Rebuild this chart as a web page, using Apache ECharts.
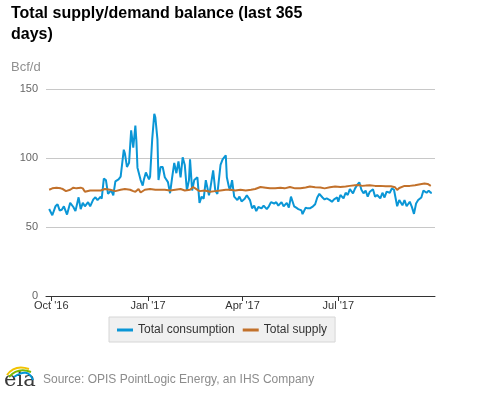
<!DOCTYPE html>
<html><head><meta charset="utf-8">
<script src="https://cdn.jsdelivr.net/npm/echarts@6/dist/echarts.min.js"></script>
<style>html,body{margin:0;padding:0;background:#fff}#chart{width:477px;height:393px}</style>
</head><body><div id="chart"></div>
<script>
const titleText = "Total supply/demand balance (last 365\ndays)";
const unitLabel = "Bcf/d";
const sourceText = "Source: OPIS PointLogic Energy, an IHS Company";
const seriesNames = ["Total consumption", "Total supply"];
const tickDates = ["2016-10-01", "2017-01-01", "2017-04-01", "2017-07-01"];
const tickLabels = ["Oct '16", "Jan '17", "Apr '17", "Jul '17"];
const xRange = ["2016-09-26", "2017-10-01"];
const yRange = [0, 150, 50];

const consumption = [
['2016-09-29',63],['2016-10-02',58.5],['2016-10-05',65],['2016-10-07',66.5],['2016-10-09',62],['2016-10-11',62.5],['2016-10-13',65],['2016-10-16',59],['2016-10-19',67.5],['2016-10-22',64.5],['2016-10-24',61.5],['2016-10-27',71.5],['2016-10-29',63],['2016-10-31',67.5],['2016-11-02',65],['2016-11-05',68],['2016-11-07',65],['2016-11-10',70],['2016-11-12',71.5],['2016-11-14',69.5],['2016-11-17',72],['2016-11-18',70.5],['2016-11-20',85],['2016-11-22',84],['2016-11-24',74],['2016-11-27',76.5],['2016-11-29',73],['2016-12-01',83],['2016-12-04',84.5],['2016-12-06',86.5],['2016-12-09',106],['2016-12-10',103.5],['2016-12-12',93.5],['2016-12-14',96.5],['2016-12-16',120],['2016-12-18',107.5],['2016-12-20',123.5],['2016-12-21',112],['2016-12-22',93],['2016-12-25',84],['2016-12-27',80],['2016-12-28',84],['2016-12-30',89.5],['2017-01-02',84.5],['2017-01-03',86.5],['2017-01-05',113.5],['2017-01-07',132],['2017-01-08',129.5],['2017-01-10',113.5],['2017-01-11',84],['2017-01-13',93.5],['2017-01-15',93.5],['2017-01-17',86],['2017-01-20',82.5],['2017-01-22',74.5],['2017-01-24',86],['2017-01-26',96.5],['2017-01-28',89],['2017-01-30',97.5],['2017-02-01',86],['2017-02-03',100.5],['2017-02-05',95],['2017-02-07',76.5],['2017-02-09',84],['2017-02-10',99],['2017-02-12',76.5],['2017-02-14',84],['2017-02-17',86],['2017-02-19',67.5],['2017-02-21',72],['2017-02-23',70.5],['2017-02-25',84],['2017-02-28',73],['2017-03-01',76.5],['2017-03-04',91],['2017-03-06',76.5],['2017-03-08',74],['2017-03-11',95],['2017-03-13',99],['2017-03-16',102],['2017-03-17',86],['2017-03-19',79],['2017-03-20',76.5],['2017-03-22',84],['2017-03-24',72],['2017-03-27',69.5],['2017-03-29',72],['2017-03-31',68.5],['2017-04-03',70.5],['2017-04-05',73],['2017-04-08',69.5],['2017-04-10',63.5],['2017-04-12',65.5],['2017-04-14',61.5],['2017-04-16',64.5],['2017-04-19',63.5],['2017-04-21',65.5],['2017-04-24',63],['2017-04-26',65],['2017-04-28',68],['2017-05-01',67],['2017-05-03',68],['2017-05-05',65.5],['2017-05-08',68],['2017-05-10',65],['2017-05-13',67.5],['2017-05-15',64],['2017-05-17',72],['2017-05-20',65],['2017-05-22',64],['2017-05-24',63],['2017-05-27',62],['2017-05-28',59.3],['2017-05-31',64],['2017-06-02',63.5],['2017-06-04',63.5],['2017-06-07',65],['2017-06-09',66.5],['2017-06-11',71.4],['2017-06-13',74],['2017-06-16',71.4],['2017-06-18',70],['2017-06-20',70.7],['2017-06-23',69.5],['2017-06-25',68.3],['2017-06-27',70],['2017-06-30',71.4],['2017-07-01',68.3],['2017-07-03',73.2],['2017-07-06',70.7],['2017-07-08',74.8],['2017-07-10',73.2],['2017-07-12',77.4],['2017-07-15',74.4],['2017-07-17',78],['2017-07-19',80.5],['2017-07-21',82.4],['2017-07-23',77],['2017-07-25',74.4],['2017-07-27',76.4],['2017-07-29',72],['2017-07-31',75.6],['2017-08-03',77.4],['2017-08-05',72],['2017-08-07',73.2],['2017-08-10',70.7],['2017-08-12',74.8],['2017-08-14',71.4],['2017-08-16',75.6],['2017-08-19',74.8],['2017-08-21',78],['2017-08-23',77],['2017-08-26',65],['2017-08-28',69.5],['2017-08-31',65.7],['2017-09-02',69.5],['2017-09-04',65],['2017-09-07',68.3],['2017-09-09',64.6],['2017-09-11',59.5],['2017-09-13',67],['2017-09-15',69.5],['2017-09-18',71.4],['2017-09-20',76.4],['2017-09-23',74.8],['2017-09-25',76.4],['2017-09-27',74.8],['2017-09-28',74.8]
];

const supply = [
['2016-09-29',77],['2016-10-02',78],['2016-10-06',78.5],['2016-10-10',78],['2016-10-12',77.5],['2016-10-15',76],['2016-10-19',77],['2016-10-22',78.5],['2016-10-25',78],['2016-10-29',78.5],['2016-10-31',78],['2016-11-02',75.5],['2016-11-07',76.5],['2016-11-12',76.5],['2016-11-17',76.5],['2016-11-21',77.5],['2016-11-26',77],['2016-12-01',76],['2016-12-06',77],['2016-12-10',77.5],['2016-12-15',77],['2016-12-18',76],['2016-12-20',75.5],['2016-12-23',77.5],['2016-12-25',75],['2016-12-29',77],['2017-01-03',77.5],['2017-01-08',77],['2017-01-12',77],['2017-01-17',77],['2017-01-22',76.5],['2017-01-27',77],['2017-02-01',77.5],['2017-02-05',76.5],['2017-02-10',77],['2017-02-13',79],['2017-02-16',77.5],['2017-02-19',76],['2017-02-24',76.5],['2017-03-01',75.5],['2017-03-06',76],['2017-03-11',76.5],['2017-03-16',77],['2017-03-20',77],['2017-03-25',76.5],['2017-03-30',77],['2017-04-04',76.5],['2017-04-09',77],['2017-04-13',77.5],['2017-04-18',79],['2017-04-23',78.5],['2017-04-27',78],['2017-05-02',78],['2017-05-07',78.5],['2017-05-11',78],['2017-05-16',79],['2017-05-21',78],['2017-05-26',78],['2017-05-31',78.6],['2017-06-04',79.3],['2017-06-09',78.8],['2017-06-14',78.6],['2017-06-18',78],['2017-06-23',78.8],['2017-06-28',79.3],['2017-07-03',79],['2017-07-08',79.3],['2017-07-12',79.8],['2017-07-17',80.3],['2017-07-20',80.5],['2017-07-24',79.8],['2017-07-27',80],['2017-07-31',80.3],['2017-08-05',79.8],['2017-08-10',79.8],['2017-08-15',79.5],['2017-08-20',79.5],['2017-08-24',78.8],['2017-08-26',76.8],['2017-08-28',78.3],['2017-09-02',79.8],['2017-09-07',79.8],['2017-09-12',80.3],['2017-09-17',81],['2017-09-21',81.5],['2017-09-24',81.2],['2017-09-27',79.8]
];

const seriesColors = ["#0a96d6", "#c2712b"];

const toTime = d => Date.UTC(+d.slice(0, 4), +d.slice(5, 7) - 1, +d.slice(8, 10));
const chart = echarts.init(document.getElementById('chart'), null, { renderer: 'canvas' });
const tickTimes = tickDates.map(toTime);
function tickLabelFor(v) {
  const i = tickTimes.findIndex(t => Math.abs(t - v) < 43200000);
  return i >= 0 ? tickLabels[i] : '';
}
const font = 'Liberation Sans, Arial, sans-serif';
const option = {
  animation: false,
  textStyle: { fontFamily: font },
  title: [
    { text: titleText, left: 11, top: 3, padding: 0,
      textStyle: { fontSize: 16, fontWeight: 'bold', color: '#000', lineHeight: 21, fontFamily: font } },
    { text: unitLabel, left: 11, top: 61, padding: 0,
      textStyle: { fontSize: 13, fontWeight: 'normal', color: '#909090', fontFamily: font } }
  ],
  legend: {
    data: seriesNames, left: 109, top: 317,
    backgroundColor: '#f0f0f0', borderColor: '#d6d6d6', borderWidth: 1,
    padding: [7, 8, 6, 8], itemGap: 8, itemWidth: 16, itemHeight: 3, icon: 'rect',
    textStyle: { fontSize: 12, color: '#333', fontFamily: font }
  },
  grid: { left: 46, right: 42, top: 89, bottom: 97 },
  xAxis: {
    type: 'value', min: toTime(xRange[0]), max: toTime(xRange[1]),
    axisLine: { show: true, lineStyle: { color: '#333', width: 1 } },
    axisTick: { show: true, customValues: tickTimes, length: 5, lineStyle: { color: '#333' } },
    axisLabel: { customValues: tickTimes, formatter: tickLabelFor, fontSize: 11, color: '#333', margin: 4, hideOverlap: false, showMinLabel: true, showMaxLabel: true },
    splitLine: { show: false }
  },
  yAxis: {
    type: 'value', min: yRange[0], max: yRange[1], interval: yRange[2],
    axisLine: { show: false }, axisTick: { show: false },
    axisLabel: { fontSize: 11, color: '#666', margin: 8 },
    splitLine: { lineStyle: { color: '#c8c8c8', width: 1 } }
  },
  series: [
    { name: seriesNames[0], type: 'line', data: consumption.map(p => [toTime(p[0]), p[1]]), showSymbol: false, symbol: 'none',
      lineStyle: { width: 2, color: seriesColors[0] }, itemStyle: { color: seriesColors[0] } },
    { name: seriesNames[1], type: 'line', data: supply.map(p => [toTime(p[0]), p[1]]), showSymbol: false, symbol: 'none',
      lineStyle: { width: 2, color: seriesColors[1] }, itemStyle: { color: seriesColors[1] } }
  ],
  graphic: [
    { type: 'text', left: 43, top: 374, style: { text: sourceText, fill: '#8c8c8c', font: '12px ' + font } },
    { type: 'text', left: 4, top: 370, style: { text: 'eia', fill: '#3a3a3a', font: '21px DejaVu Serif' } },
    { type: 'bezierCurve', shape: { x1: 7, y1: 375, cpx1: 15, cpy1: 364, x2: 29, y2: 369 }, style: { stroke: '#f2c300', lineWidth: 2, fill: null } },
    { type: 'bezierCurve', shape: { x1: 9, y1: 377, cpx1: 18, cpy1: 367, x2: 31, y2: 372 }, style: { stroke: '#7ab800', lineWidth: 2, fill: null } },
    { type: 'bezierCurve', shape: { x1: 14, y1: 377, cpx1: 28, cpy1: 367, x2: 33, y2: 380 }, style: { stroke: '#0096d6', lineWidth: 2, fill: null } }
  ]
};
chart.setOption(option);
</script></body></html>
